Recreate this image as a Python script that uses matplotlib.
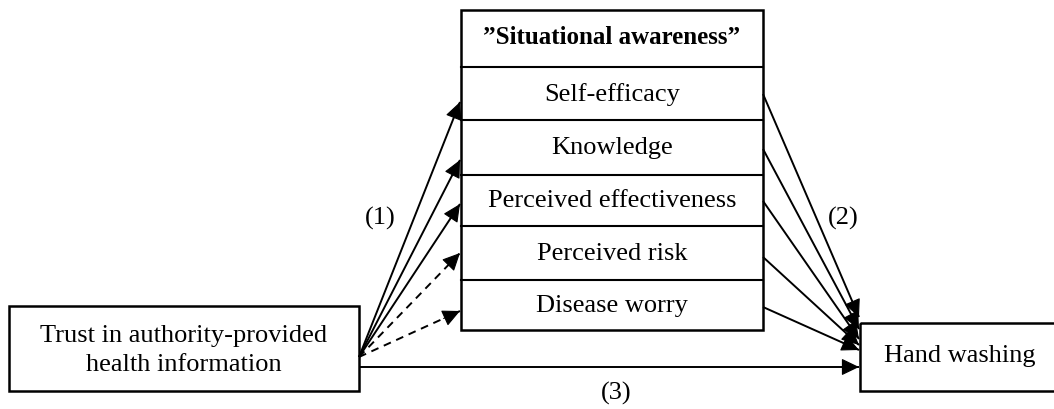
"""Path diagram: trust -> situational awareness -> hand washing"""

import matplotlib.pyplot as plt
from matplotlib.patches import Rectangle, FancyArrowPatch

plt.rcParams["font.family"] = ["Liberation Serif", "DejaVu Serif"]

# -----------------------------------------------------------------------------
# Diagram content
PREDICTOR = "Trust in authority-provided\nhealth information"
OUTCOME = "Hand washing"
HEADER = "\u201dSituational awareness\u201d"
MEDIATORS = ["Self-efficacy", "Knowledge", "Perceived effectiveness",
             "Perceived risk", "Disease worry"]
# path (1) significant? solid = yes, dashed = no
SIG_A = [True, True, True, False, False]
SIG_B = [True, True, True, True, True]
PATH_LABELS = ["(1)", "(2)", "(3)"]

# -----------------------------------------------------------------------------
# Geometry (pixel coordinates, y downwards)
W, H, DPI = 1054, 410, 100
LEFT_BOX = (9, 307, 359, 392)
MID_X = (461, 763)
MID_ROWS = [11, 68, 121, 176, 227, 281, 331]
RIGHT_BOX = (860, 324, 1070, 392)
TIPS_A = [103, 161, 205, 254, 312]
STARTS_B = [95, 150, 202, 258, 308]
TIPS_B = [318, 330, 340, 346, 351]
ORIGIN = (359, 358)
DIRECT_Y = 368
FS = 19

fig = plt.figure(figsize=(W / DPI, H / DPI), dpi=DPI)
ax = fig.add_axes([0, 0, 1, 1])
ax.set_xlim(0, W)
ax.set_ylim(H, 0)
ax.axis("off")


def box(x0, y0, x1, y1, lw=1.8):
    ax.add_patch(Rectangle((x0, y0), x1 - x0, y1 - y0, fill=False,
                           edgecolor="black", linewidth=lw, zorder=3))


def arrow(p0, p1, solid=True):
    ls = "-" if solid else (0, (4, 3))
    ax.plot([p0[0], p1[0]], [p0[1], p1[1]], color="black", lw=1.4,
            linestyle=ls, zorder=2, solid_capstyle="butt")
    dx, dy = p1[0] - p0[0], p1[1] - p0[1]
    n = (dx ** 2 + dy ** 2) ** 0.5
    q = (p1[0] - dx / n * 18, p1[1] - dy / n * 18)
    ax.add_patch(FancyArrowPatch(q, p1,
                                 arrowstyle="-|>,head_length=0.5,head_width=0.24",
                                 mutation_scale=22, color="black", lw=0.8,
                                 shrinkA=0, shrinkB=0, zorder=4))


# Boxes
box(*LEFT_BOX)
ax.text((LEFT_BOX[0] + LEFT_BOX[2]) / 2, (LEFT_BOX[1] + LEFT_BOX[3]) / 2 + 1,
        PREDICTOR, ha="center", va="center", fontsize=FS, linespacing=1.45)

box(MID_X[0], MID_ROWS[0], MID_X[1], MID_ROWS[-1])
for y in MID_ROWS[1:-1]:
    ax.plot(MID_X, [y, y], color="black", lw=1.5, zorder=3)
cx = (MID_X[0] + MID_X[1]) / 2
ax.text(cx, (MID_ROWS[0] + MID_ROWS[1]) / 2 - 2, HEADER, ha="center",
        va="center", fontsize=FS - 1, fontweight="bold")
for i, lab in enumerate(MEDIATORS):
    ax.text(cx, (MID_ROWS[i + 1] + MID_ROWS[i + 2]) / 2, lab, ha="center",
            va="center", fontsize=FS)

box(*RIGHT_BOX)
ax.text(960, (RIGHT_BOX[1] + RIGHT_BOX[3]) / 2 - 2, OUTCOME, ha="center",
        va="center", fontsize=FS)

# Paths (1)
for y, sig in zip(TIPS_A, SIG_A):
    arrow(ORIGIN, (MID_X[0] - 1, y), solid=sig)

# Paths (2)
for y0, y1, sig in zip(STARTS_B, TIPS_B, SIG_B):
    arrow((MID_X[1], y0), (RIGHT_BOX[0] - 1, y1), solid=sig)

# Path (3)
arrow((LEFT_BOX[2], DIRECT_Y), (RIGHT_BOX[0] - 1, DIRECT_Y))

ax.text(380, 218, PATH_LABELS[0], ha="center", va="center", fontsize=FS)
ax.text(843, 218, PATH_LABELS[1], ha="center", va="center", fontsize=FS)
ax.text(616, 393, PATH_LABELS[2], ha="center", va="center", fontsize=FS)

plt.savefig("out.png", dpi=DPI)
